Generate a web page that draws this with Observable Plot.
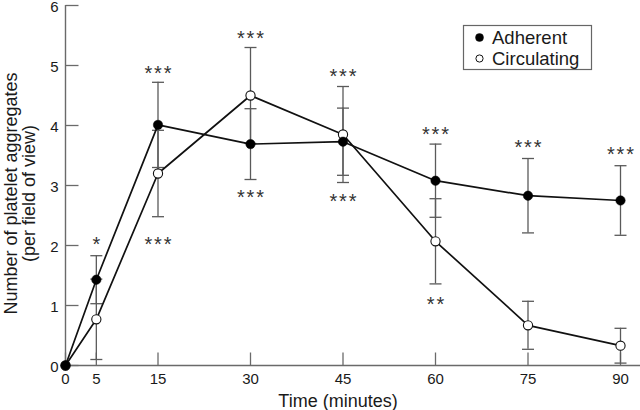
<!DOCTYPE html>
<html><head><meta charset="utf-8">
<script src="https://cdn.jsdelivr.net/npm/d3@7"></script>
<script src="https://cdn.jsdelivr.net/npm/@observablehq/plot@0.6"></script>
<style>
body{margin:0;background:#fff;font-family:"Liberation Sans",Arial,Helvetica,sans-serif}
#wrap{position:relative;width:640px;height:410px;overflow:hidden}
#legend{position:absolute;left:0;top:0}
.stars text{letter-spacing:1.8px}
</style></head><body><div id="wrap"></div>
<script>
// ---- data ----
const times = [0, 5, 15, 30, 45, 60, 75, 90];
const adherent = [0, 1.43, 4.01, 3.69, 3.73, 3.08, 2.83, 2.75];
const adherentErr = [0, 0.40, 0.71, 0.59, 0.56, 0.61, 0.62, 0.58];
const circulating = [0, 0.77, 3.20, 4.50, 3.85, 2.07, 0.67, 0.33];
const circulatingErr = [0, 0.67, 0.72, 0.80, 0.80, 0.71, 0.40, 0.29];
const xTicks = [0, 5, 15, 30, 45, 60, 75, 90];
const yTicks = [0, 1, 2, 3, 4, 5, 6];
const sigX = [5, 15, 15, 30, 30, 45, 45, 60, 60, 75, 90];
const sigY = [2.12, 4.97, 2.12, 5.55, 2.90, 4.92, 2.83, 3.95, 1.12, 3.73, 3.61];
const sigLabel = ["*", "***", "***", "***", "***", "***", "***", "***", "**", "***", "***"];
const seriesNames = ["Adherent", "Circulating"];

// ---- tables ----
const rows = [];
times.forEach((t, i) => {
  rows.push({series: "Adherent", t, v: adherent[i], e: adherentErr[i]});
  rows.push({series: "Circulating", t, v: circulating[i], e: circulatingErr[i]});
});
const adh = rows.filter(d => d.series === "Adherent");
const circ = rows.filter(d => d.series === "Circulating");
const withErr = rows.filter(d => d.e > 0);
const sig = sigX.map((x, i) => ({x, y: sigY[i], label: sigLabel[i]}));

// custom symbols (pixel sizes)
const capSymbol = {draw(ctx) { ctx.moveTo(-6, 0); ctx.lineTo(6, 0); }};
const tickUp = {draw(ctx) { ctx.moveTo(0, 0); ctx.lineTo(0, -13); }};
const tickRight = {draw(ctx) { ctx.moveTo(0, 0); ctx.lineTo(13, 0); }};

const axisColor = "#6a6a6a";
const errColor = "#5a5a5a";

const chart = Plot.plot({
  width: 640, height: 410,
  marginLeft: 65, marginRight: 20, marginTop: 5, marginBottom: 45,
  style: {fontFamily: '"Liberation Sans", Arial, sans-serif', fontSize: "15px", color: "#1a1a1a", background: "white", overflow: "visible"},
  x: {domain: [0, 90]},
  y: {domain: [0, 6]},
  marks: [
    Plot.axisX({ticks: xTicks, tickSize: 0, tickPadding: 8, fontSize: 15, label: null, tickFormat: d3.format("d")}),
    Plot.axisY({ticks: yTicks, tickSize: 0, tickPadding: 7, fontSize: 15, label: null, tickFormat: d3.format("d"), dy: 2}),
    Plot.ruleY([0], {stroke: axisColor, strokeWidth: 1.4, insetRight: -20}),
    Plot.ruleX([0], {stroke: axisColor, strokeWidth: 1.4}),
    Plot.dot(xTicks, {x: d => d, y: 0, symbol: tickUp, r: 5, stroke: axisColor, strokeWidth: 1.3, fill: "none"}),
    Plot.dot(yTicks, {x: 0, y: d => d, symbol: tickRight, r: 5, stroke: axisColor, strokeWidth: 1.3, fill: "none"}),
    // error bars
    Plot.ruleX(withErr, {x: "t", y1: d => d.v - d.e, y2: d => d.v + d.e, stroke: errColor, strokeWidth: 1.3}),
    Plot.dot(withErr, {x: "t", y: d => d.v + d.e, symbol: capSymbol, r: 5, stroke: errColor, strokeWidth: 1.3, fill: "none"}),
    Plot.dot(withErr, {x: "t", y: d => d.v - d.e, symbol: capSymbol, r: 5, stroke: errColor, strokeWidth: 1.3, fill: "none"}),
    // lines
    Plot.line(circ, {x: "t", y: "v", stroke: "#111", strokeWidth: 1.7}),
    Plot.line(adh, {x: "t", y: "v", stroke: "#111", strokeWidth: 1.7}),
    Plot.dot(circ, {x: "t", y: "v", r: 4.6, fill: "white", stroke: "#111", strokeWidth: 1.1}),
    Plot.dot(adh, {x: "t", y: "v", r: 4.7, fill: "#000", stroke: "#000", strokeWidth: 0.5}),
    // significance stars
    Plot.text(sig, {x: "x", y: "y", text: "label", fontSize: 20, dy: 6, dx: 0.9, fill: "#333", className: "stars"}),
    // axis titles
    Plot.text(["Time (minutes)"], {frameAnchor: "bottom", lineAnchor: "top", dy: 29, dx: -5, fontSize: 18, fill: "#1a1a1a"}),
    Plot.text(["Number of platelet aggregates\n(per field of view)"], {frameAnchor: "left", textAnchor: "middle", rotate: -90, lineAnchor: "middle", lineHeight: 1, dx: -45, dy: 8, fontSize: 18, fill: "#1a1a1a"})
  ]
});

const wrap = document.getElementById("wrap");
wrap.appendChild(chart);

// legend (overlaid inside plot area)
const ns = "http://www.w3.org/2000/svg";
const lg = document.createElementNS(ns, "svg");
lg.setAttribute("id", "legend");
lg.setAttribute("width", 640); lg.setAttribute("height", 410);
const box = document.createElementNS(ns, "rect");
box.setAttribute("x", 463.5); box.setAttribute("y", 25.5);
box.setAttribute("width", 128); box.setAttribute("height", 44);
box.setAttribute("fill", "white"); box.setAttribute("stroke", "#666"); box.setAttribute("stroke-width", 1.2);
lg.appendChild(box);
seriesNames.forEach((name, i) => {
  const c = document.createElementNS(ns, "circle");
  c.setAttribute("cx", 479.5); c.setAttribute("cy", 37.5 + i * 21);
  c.setAttribute("r", i === 0 ? 4 : 3.6);
  c.setAttribute("fill", i === 0 ? "#000" : "white");
  c.setAttribute("stroke", "#111"); c.setAttribute("stroke-width", i === 0 ? 0.5 : 1);
  lg.appendChild(c);
  const t = document.createElementNS(ns, "text");
  t.setAttribute("x", 492); t.setAttribute("y", 43.5 + i * 21);
  t.setAttribute("font-size", 18.5);
  t.setAttribute("font-family", '"Liberation Sans", Arial, sans-serif');
  t.setAttribute("fill", "#1a1a1a");
  t.textContent = name;
  lg.appendChild(t);
});
wrap.appendChild(lg);
</script>
</body></html>
